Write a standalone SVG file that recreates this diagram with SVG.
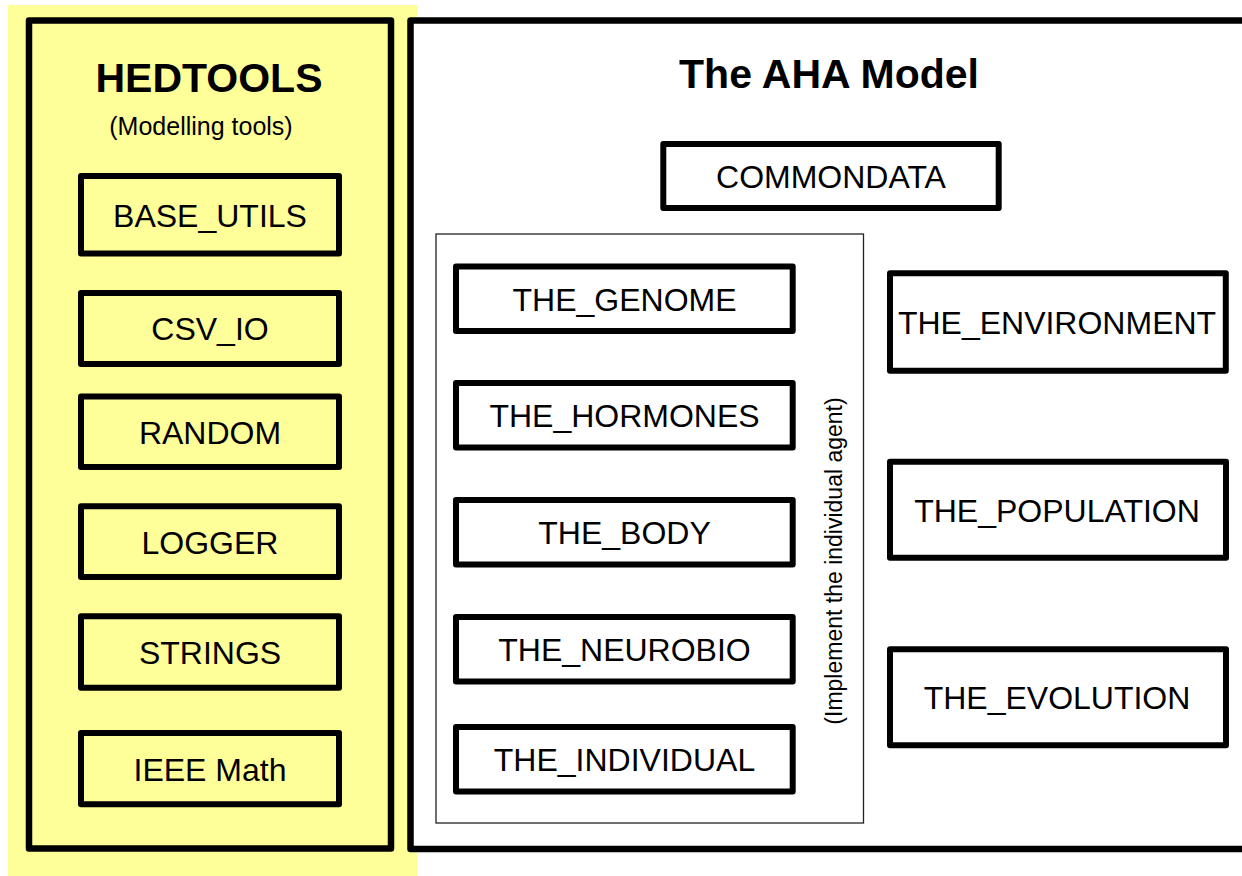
<svg xmlns="http://www.w3.org/2000/svg" width="1242" height="876" viewBox="0 0 1242 876">
<style>
.panel{fill:none;stroke:#000;stroke-width:6.5;stroke-linejoin:round}
.box{stroke:#000;stroke-width:6;stroke-linejoin:round}
.ybox{fill:#ffff99}
.wbox{fill:#fff}
.lbl{font-family:"Liberation Sans",Arial,sans-serif;font-size:32px;fill:#000;text-anchor:middle}
.title{font-family:"Liberation Sans",Arial,sans-serif;font-size:41px;font-weight:bold;fill:#000;text-anchor:middle}
.sub{font-family:"Liberation Sans",Arial,sans-serif;font-size:25px;fill:#000;text-anchor:middle}
.vert{font-family:"Liberation Sans",Arial,sans-serif;font-size:23px;fill:#000;text-anchor:middle}
</style>
<rect x="0" y="0" width="1242" height="876" fill="#fff"/>
<rect x="8" y="5" width="409" height="871" fill="#ffff99"/>
<g id="hedtools">
  <rect class="panel" x="29" y="20.5" width="362" height="828"/>
  <text class="title" x="209" y="92">HEDTOOLS</text>
  <text class="sub" x="201" y="135">(Modelling tools)</text>
</g>
<g id="aha-model">
  <rect class="panel wbox" x="410.5" y="20.5" width="900" height="828.5"/>
  <text class="title" x="829" y="88">The AHA Model</text>
</g>
<g id="individual-agent">
  <rect x="436" y="234" width="427.5" height="589" fill="none" stroke="#222" stroke-width="1.3"/>
  <text class="vert" transform="translate(842,561) rotate(-90)">(Implement the individual agent)</text>
</g>
<g id="base_utils"><rect class="box ybox" x="81" y="176" width="258" height="77.5"/><text class="lbl" x="210" y="226.5">BASE_UTILS</text></g>
<g id="csv_io"><rect class="box ybox" x="81" y="293" width="258" height="71"/><text class="lbl" x="210" y="340">CSV_IO</text></g>
<g id="random"><rect class="box ybox" x="81" y="396.5" width="258" height="70.5"/><text class="lbl" x="210" y="443.5">RANDOM</text></g>
<g id="logger"><rect class="box ybox" x="81" y="506.3" width="258" height="70.7"/><text class="lbl" x="210" y="553.5">LOGGER</text></g>
<g id="strings"><rect class="box ybox" x="81" y="616.3" width="258" height="71.4"/><text class="lbl" x="210" y="663.5">STRINGS</text></g>
<g id="ieee_math"><rect class="box ybox" x="81" y="733" width="258" height="71.3"/><text class="lbl" x="210" y="780.5">IEEE Math</text></g>
<g id="commondata"><rect class="box wbox" x="663.3" y="144" width="335.4" height="64"/><text class="lbl" x="831" y="187.5">COMMONDATA</text></g>
<g id="the_genome"><rect class="box wbox" x="456" y="266.5" width="336.7" height="64.5"/><text class="lbl" x="624.5" y="310.5">THE_GENOME</text></g>
<g id="the_hormones"><rect class="box wbox" x="456" y="383" width="336.7" height="64.5"/><text class="lbl" x="624.5" y="427">THE_HORMONES</text></g>
<g id="the_body"><rect class="box wbox" x="456" y="500" width="336.7" height="64.5"/><text class="lbl" x="624.5" y="544">THE_BODY</text></g>
<g id="the_neurobio"><rect class="box wbox" x="456" y="617" width="336.7" height="64.5"/><text class="lbl" x="624.5" y="661">THE_NEUROBIO</text></g>
<g id="the_individual"><rect class="box wbox" x="456" y="727" width="336.7" height="64.5"/><text class="lbl" x="624.5" y="771">THE_INDIVIDUAL</text></g>
<g id="the_environment"><rect class="box wbox" x="890" y="273.3" width="335.8" height="97.4"/><text class="lbl" x="1057" y="333.5">THE_ENVIRONMENT</text></g>
<g id="the_population"><rect class="box wbox" x="890" y="461.7" width="336" height="96"/><text class="lbl" x="1057" y="521.5">THE_POPULATION</text></g>
<g id="the_evolution"><rect class="box wbox" x="890" y="649.3" width="336" height="96"/><text class="lbl" x="1057" y="709">THE_EVOLUTION</text></g>
<g id="connectors"></g>
</svg>
